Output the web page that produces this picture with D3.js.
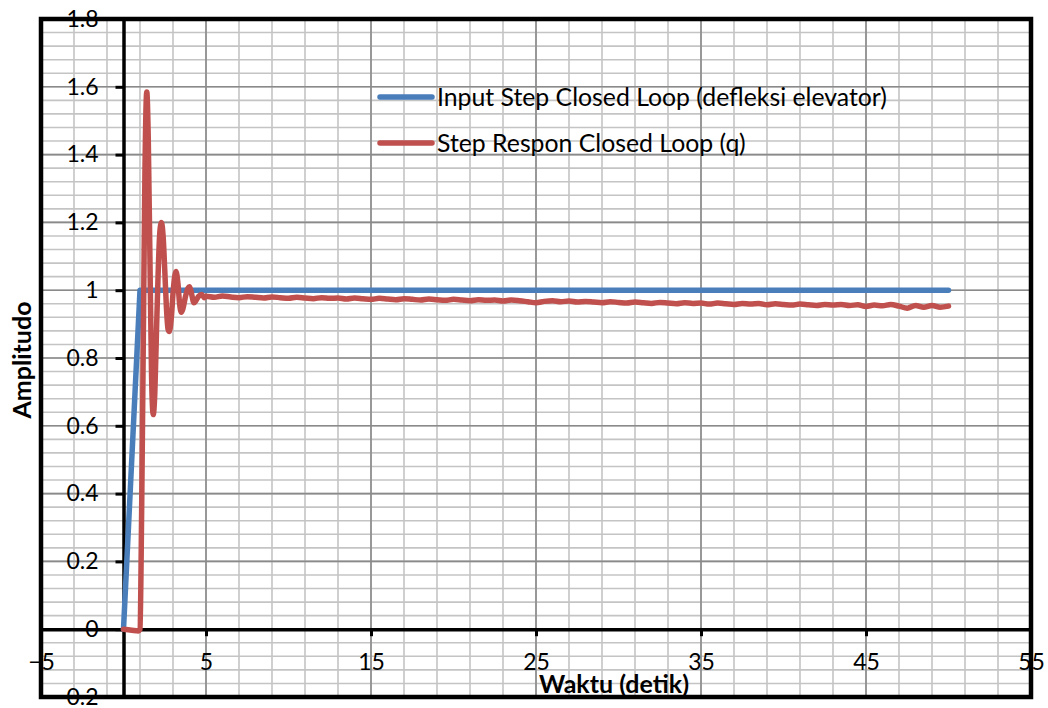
<!DOCTYPE html>
<html>
<head>
<meta charset="utf-8">
<script src="https://cdn.jsdelivr.net/npm/d3@7"></script>
<style>
  html, body { margin: 0; padding: 0; background: #fff; }
  svg { display: block; }
  text { font-family: Lato, "Open Sans", sans-serif; fill: #000; }
</style>
</head>
<body>
<svg id="chart" width="1048" height="708"></svg>
<script>
// Input step (elevator deflection), closed loop
const inputTime  = [0, 1, 50];
const inputValue = [0, 1, 1];

// Closed-loop step response of pitch rate q
const respTime = [
  0, 0.5, 0.9, 1.0, 1.1, 1.2, 1.3, 1.41, 1.5, 1.6, 1.7, 1.8, 1.9, 2.0, 2.1, 2.2, 2.3,
  2.4, 2.5, 2.6, 2.7, 2.78, 2.9, 3.0, 3.1, 3.18, 3.3, 3.4, 3.5, 3.6, 3.75, 3.9, 4.0,
  4.1, 4.27, 4.4, 4.55, 4.74, 4.9,
  5.0, 5.5, 6.0, 6.5, 7.0, 7.5, 8.0, 8.5, 9.0, 9.5, 10.0, 10.5, 11.0, 11.5, 12.0, 12.5,
  13.0, 13.5, 14.0, 14.5, 15.0, 15.5, 16.0, 16.5, 17.0, 17.5, 18.0, 18.5, 19.0, 19.5,
  20.0, 20.5, 21.0, 21.5, 22.0, 22.5, 23.0, 23.5, 24.0, 24.5, 25.0, 25.5, 26.0, 26.5,
  27.0, 27.5, 28.0, 28.5, 29.0, 29.5, 30.0, 30.5, 31.0, 31.5, 32.0, 32.5, 33.0, 33.5,
  34.0, 34.5, 35.0, 35.5, 36.0, 36.5, 37.0, 37.5, 38.0, 38.5, 39.0, 39.5, 40.0, 40.5,
  41.0, 41.5, 42.0, 42.5, 43.0, 43.5, 44.0, 44.5, 45.0, 45.5, 46.0, 46.5, 47.0, 47.5,
  48.0, 48.5, 49.0, 49.5, 50.0
];
const respValue = [
  0, -0.003, -0.005, 0.0, 0.35, 0.85, 1.35, 1.585, 1.45, 1.10, 0.75, 0.633, 0.70, 0.88, 1.05, 1.17, 1.20,
  1.16, 1.06, 0.95, 0.885, 0.878, 0.92, 0.99, 1.04, 1.055, 1.02, 0.96, 0.935, 0.945, 0.98, 1.005, 1.01,
  0.995, 0.963, 0.970, 0.982, 0.987, 0.978,
  0.982, 0.979, 0.983, 0.980, 0.978, 0.981, 0.979, 0.977, 0.980, 0.978, 0.976, 0.979, 0.977, 0.975, 0.978, 0.976,
  0.977, 0.974, 0.977, 0.975, 0.973, 0.976, 0.974, 0.972, 0.975, 0.973, 0.971, 0.974, 0.972, 0.970,
  0.973, 0.971, 0.969, 0.972, 0.970, 0.971, 0.968, 0.971, 0.969, 0.966, 0.963, 0.967, 0.969, 0.966,
  0.968, 0.965, 0.967, 0.965, 0.963, 0.966, 0.964, 0.962, 0.965, 0.963, 0.961, 0.964, 0.962, 0.960,
  0.963, 0.961, 0.962, 0.959, 0.962, 0.960, 0.958, 0.961, 0.959, 0.961, 0.957, 0.960, 0.958, 0.956,
  0.959, 0.957, 0.955, 0.958, 0.956, 0.958, 0.955, 0.957, 0.952, 0.956, 0.954, 0.958, 0.953, 0.947,
  0.955, 0.950, 0.955, 0.950, 0.953
];

// Axis tick values and labels
const xTickValues = [-5, 5, 15, 25, 35, 45, 55];
const yTickValues = [-0.2, 0, 0.2, 0.4, 0.6, 0.8, 1, 1.2, 1.4, 1.6, 1.8];
const yTickLabels = ["-0.2", "0", "0.2", "0.4", "0.6", "0.8", "1", "1.2", "1.4", "1.6", "1.8"];

const seriesNames = ["Input Step Closed Loop (defleksi elevator)", "Step Respon Closed Loop (q)"];
const seriesColors = ["#4a7ebb", "#c0504d"];

const svg = d3.select("#chart");
const plotLeft = 41, plotRight = 1031, plotTop = 19, plotBottom = 697;

const x = d3.scaleLinear().domain([-5, 55]).range([plotLeft, plotRight]);
const y = d3.scaleLinear().domain([-0.2, 1.8]).range([plotBottom, plotTop]);

// Gridlines: minor every 2 s / 0.04, major every 10 s / 0.2
const grid = svg.append("g");
const minorX = d3.range(-5, 55.001, 2);
const majorX = d3.range(-5, 55.001, 10);
const minorY = d3.range(-0.2, 1.8001, 0.04);
const majorY = d3.range(-0.2, 1.8001, 0.2);

grid.selectAll(".mx").data(minorX).join("line")
  .attr("x1", d => x(d)).attr("x2", d => x(d))
  .attr("y1", plotTop).attr("y2", plotBottom)
  .attr("stroke", "#c4c4c4").attr("stroke-width", 1.6);
grid.selectAll(".my").data(minorY).join("line")
  .attr("y1", d => y(d)).attr("y2", d => y(d))
  .attr("x1", plotLeft).attr("x2", plotRight)
  .attr("stroke", "#c4c4c4").attr("stroke-width", 1.6);
grid.selectAll(".Mx").data(majorX).join("line")
  .attr("x1", d => x(d)).attr("x2", d => x(d))
  .attr("y1", plotTop).attr("y2", plotBottom)
  .attr("stroke", "#8a8a8a").attr("stroke-width", 1.6);
grid.selectAll(".My").data(majorY).join("line")
  .attr("y1", d => y(d)).attr("y2", d => y(d))
  .attr("x1", plotLeft).attr("x2", plotRight)
  .attr("stroke", "#8a8a8a").attr("stroke-width", 1.6);

// Axes crossing at the origin
const xAxis = d3.axisBottom(x)
  .tickValues(xTickValues)
  .tickFormat(d3.format("d"))
  .tickSize(7).tickSizeOuter(0).tickPadding(17);
const yAxis = d3.axisLeft(y)
  .tickValues(yTickValues)
  .tickFormat((d, i) => yTickLabels[i])
  .tickSize(8).tickSizeOuter(0).tickPadding(17);

const gx = svg.append("g").attr("transform", `translate(0,${y(0)})`).call(xAxis);
const gy = svg.append("g").attr("transform", `translate(${x(0)},0)`).call(yAxis);

[gx, gy].forEach(g => {
  g.select(".domain").attr("stroke", "#000").attr("stroke-width", 3.5);
  g.selectAll(".tick line").attr("stroke", "#000").attr("stroke-width", 3);
  g.selectAll(".tick text")
    .attr("font-family", "Lato, sans-serif")
    .attr("font-size", 23)
    .attr("fill", "#000");
});

// Outer frame
svg.append("rect")
  .attr("x", plotLeft).attr("y", plotTop)
  .attr("width", plotRight - plotLeft).attr("height", plotBottom - plotTop)
  .attr("fill", "none").attr("stroke", "#000").attr("stroke-width", 4.5);

// Axis titles
svg.append("text")
  .attr("transform", `translate(31,${(plotTop + plotBottom) / 2 + 2}) rotate(-90)`)
  .attr("text-anchor", "middle")
  .attr("font-size", 25).attr("font-weight", "bold")
  .text("Amplitudo");
svg.append("text")
  .attr("x", 614).attr("y", 693)
  .attr("text-anchor", "middle")
  .attr("font-size", 25).attr("font-weight", "bold")
  .text("Waktu (detik)");

// Series
const inputPts = inputTime.map((t, i) => [t, inputValue[i]]);
const respPts = respTime.map((t, i) => [t, respValue[i]]);

svg.append("path")
  .datum(inputPts)
  .attr("d", d3.line().x(d => x(d[0])).y(d => y(d[1])).curve(d3.curveLinear))
  .attr("fill", "none").attr("stroke", seriesColors[0])
  .attr("stroke-width", 5.5).attr("stroke-linecap", "round").attr("stroke-linejoin", "round");

svg.append("path")
  .datum(respPts)
  .attr("d", d3.line().x(d => x(d[0])).y(d => y(d[1])).curve(d3.curveMonotoneX))
  .attr("fill", "none").attr("stroke", seriesColors[1])
  .attr("stroke-width", 5.5).attr("stroke-linecap", "round").attr("stroke-linejoin", "round");

// Legend
const legend = svg.append("g").attr("transform", "translate(380,97)");
seriesNames.forEach((name, i) => {
  const g = legend.append("g").attr("transform", `translate(0,${i * 46})`);
  g.append("line")
    .attr("x1", 0).attr("x2", 52).attr("y1", 0).attr("y2", 0)
    .attr("stroke", seriesColors[i]).attr("stroke-width", 5.5)
    .attr("stroke-linecap", "round");
  g.append("text")
    .attr("x", 57).attr("y", 0).attr("dy", "0.35em")
    .attr("font-size", 24.8)
    .text(name);
});
</script>
</body>
</html>
